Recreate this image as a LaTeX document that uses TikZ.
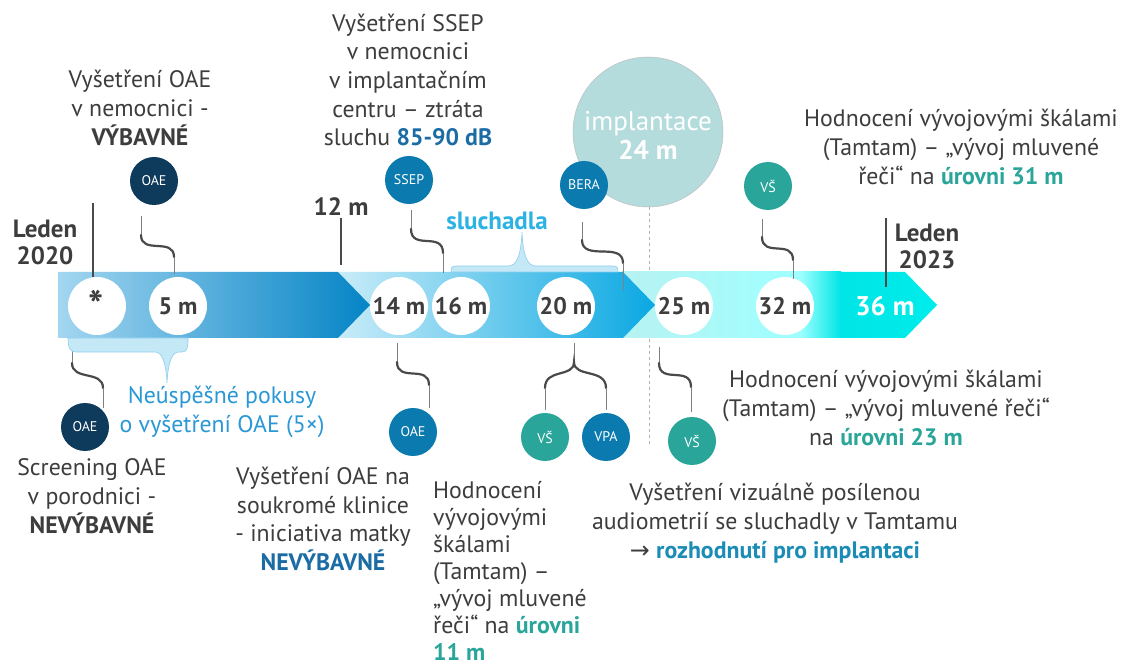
\documentclass[tikz,border=0pt]{standalone}
\usepackage{fontspec}
\setmainfont{PT Sans}
\newfontfamily\symfont{DejaVu Sans}
\definecolor{txt}{HTML}{3D3D3D}
\definecolor{navy}{HTML}{0E3A5C}
\definecolor{mblue}{HTML}{0B7AAE}
\definecolor{tealb}{HTML}{2AA59A}
\definecolor{dblue}{HTML}{1B6CA5}
\definecolor{lblue}{HTML}{2A98D5}
\definecolor{cyanb}{HTML}{2DB2E4}
\definecolor{ablue}{HTML}{1A8CB5}
\definecolor{implc}{HTML}{B4DCDC}
\definecolor{connc}{HTML}{4A4A4A}
\definecolor{connl}{HTML}{808080}
\definecolor{bracef}{HTML}{C4E8F6}
\definecolor{braced}{HTML}{8CCFEE}
\begin{document}
\begin{tikzpicture}[x=1pt,y=-1pt,
  badge/.style={circle,minimum size=48pt,inner sep=0pt,text=white,font=\fontsize{14}{16}\selectfont},
  mcirc/.style={circle,fill=white,minimum size=58pt,inner sep=0pt,text=txt,font=\bfseries\fontsize{24}{26}\selectfont},
  body/.style={text=txt,align=center,inner sep=0pt,font=\fontsize{23.8}{28.7}\selectfont},
  bbody/.style={body,font=\bfseries\fontsize{25}{27}\selectfont},
  thin/.style={draw=connl,line width=1pt},
  thick/.style={draw=connc,line width=2.2pt,line cap=round},
  bracestyle/.style={fill=bracef,draw=braced,line width=0.6pt}]
\useasboundingbox[fill=white] (0,0) rectangle (1125,668);

% dashed implant line
\coordinate (dtop) at (649,207);
\coordinate (dbot) at (649,445);
\draw[draw=black!30,dashed,line width=1pt] (dtop) -- (dbot);

% band segment 3
\shade[left color=cyan!20!white!90!teal, right color=cyan!38!white] (622,272) rectangle (801,338);
\shade[left color=cyan!38!white, right color=cyan!80!teal] (800,272) rectangle (841,338);
\shade[left color=cyan!80!teal, right color=cyan!85!teal] (840,272) -- (905,272) -- (937,305) -- (905,338) -- (840,338) -- cycle;
% band segment 2
\shade[left color={rgb,255:red,201;green,236;blue,248}, middle color={rgb,255:red,138;green,214;blue,240}, right color={rgb,255:red,10;green,168;blue,226}] (338,272) -- (623,272) -- (655,305) -- (623,338) -- (338,338) -- cycle;
% band segment 1
\shade[left color={rgb,255:red,163;green,214;blue,240}, middle color={rgb,255:red,111;green,191;blue,232}, right color={rgb,255:red,5;green,132;blue,198}] (58,272) -- (338,272) -- (370,305) -- (338,338) -- (58,338) -- cycle;

% implant circle
\node[circle,fill=implc,draw=black!25,line width=0.5pt,minimum size=150pt,inner sep=0pt] (impl) at (648,132) {};
\node[text=white,align=center,font=\fontsize{27}{29}\selectfont] (impltxt) at (648,135) {implantace\\\textbf{24 m}};

% month circles
\node[mcirc] (m0) at (97,306) {};
\node[text=txt,font=\bfseries\fontsize{40}{40}\selectfont] (ast) at (96,305) {*};
\node[mcirc] (m5) at (178,306) {5 m};
\node[mcirc] (m14) at (399,306) {14 m};
\node[mcirc] (m16) at (461,306) {16 m};
\node[mcirc] (m20) at (566,306) {20 m};
\node[mcirc] (m25) at (684,306) {25 m};
\node[mcirc] (m32) at (785,306) {32 m};
\node[text=white,font=\bfseries\fontsize{27}{28}\selectfont] (m36) at (885,306) {36 m};

% braces
\path[bracestyle] (451,272) .. controls (451,267) and (452,266) .. (457,266) -- (508,266) .. controls (517,266) and (521,255) .. (522,232) .. controls (523,255) and (527,266) .. (536,266) -- (612,266) .. controls (617,266) and (618,267) .. (618,272) -- cycle;
\coordinate (c8a) at (72,345);
\draw[thin] (c8a) -- (72,363);
\draw[thick] (72,363) .. controls (72,381) and (103,370) .. (103,388);
\coordinate (c8b) at (103,408);
\draw[thin] (103,388) -- (c8b);
\path[bracestyle] (68,338) .. controls (68,348) and (70,352) .. (76,352) -- (155,352) .. controls (162,352) and (166,362) .. (167,383) .. controls (168,362) and (172,352) .. (179,352) -- (182,352) .. controls (187,352) and (188,348) .. (188,338) -- cycle;

% badges
\node[badge,fill=navy] (oae1) at (154,181) {OAE};
\node[badge,fill=mblue] (ssep) at (409,180) {SSEP};
\node[badge,fill=mblue] (bera) at (584,185) {BERA};
\node[badge,fill=tealb] (vs1) at (768,186) {VŠ};
\node[badge,fill=navy] (oae2) at (85,427) {OAE};
\node[badge,fill=mblue] (oae3) at (413,432) {OAE};
\node[badge,fill=tealb] (vs2) at (545,437) {VŠ};
\node[badge,fill=mblue] (vpa) at (606,437) {VPA};
\node[badge,fill=tealb] (vs3) at (692,441) {VŠ};

% connectors above
\coordinate (c1a) at (141,216);
\coordinate (c1b) at (174,274);
\draw[thin] (c1a) -- (141,235);
\draw[thick] (141,235) .. controls (141,255) and (174,237) .. (174,257);
\draw[thin] (174,257) -- (c1b);

\coordinate (c2a) at (411,210);
\coordinate (c2b) at (443,273);
\draw[thin] (c2a) -- (411,229);
\draw[thick] (411,229) .. controls (411,251) and (443,231) .. (443,253);
\draw[thin] (443,253) -- (c2b);

\coordinate (c3a) at (582,222);
\coordinate (c3b) at (623,290);
\draw[thin] (c3a) -- (582,240);
\draw[thick] (582,240) .. controls (582,262) and (623,241) .. (623,263);
\draw[thin] (623,263) -- (c3b);

\coordinate (c4a) at (762,219);
\coordinate (c4b) at (793,279);
\draw[thin] (c4a) -- (762,237);
\draw[thick] (762,237) .. controls (762,258) and (793,239) .. (793,260);
\draw[thin] (793,260) -- (c4b);

\coordinate (c5a) at (93,203);
\draw[draw=connc,line width=1.4pt] (c5a) -- (m0.north -| c5a);
\coordinate (c6a) at (341,218);
\coordinate (c6b) at (341,265);
\draw[draw=connc,line width=1.4pt] (c6a) -- (c6b);
\coordinate (c7a) at (886,218);
\coordinate (c7b) at (886,287);
\draw[draw=connc,line width=1.4pt] (c7a) -- (c7b);

% connectors below
\coordinate (c9a) at (397,343);
\coordinate (c9b) at (429,408);
\draw[thin] (c9a) -- (397,362);
\draw[thick] (397,362) .. controls (397,383) and (429,364) .. (429,385);
\draw[thin] (429,385) -- (c9b);

\coordinate (c10a) at (574,343);
\coordinate (c10f) at (574,362);
\coordinate (c10l) at (545,410);
\coordinate (c10r) at (606,410);
\draw[thin] (c10a) -- (c10f);
\draw[thick] (545,388) .. controls (545,368) and (574,378) .. (c10f) .. controls (574,378) and (606,368) .. (606,388);
\draw[thin] (545,388) -- (c10l);
\draw[thin] (606,388) -- (c10r);

\coordinate (c11a) at (659,347);
\coordinate (c11b) at (691,412);
\draw[thin] (c11a) -- (659,363);
\draw[thick] (659,363) .. controls (659,385) and (691,365) .. (691,387);
\draw[thin] (691,387) -- (c11b);

% texts
\node[body] (t1) at (140,108) {Vyšetření OAE\\v nemocnici -\\\textbf{VÝBAVNÉ}};
\node[body] (t2) at (408,80) {Vyšetření SSEP\\v nemocnici\\v implantačním\\centru – ztráta\\sluchu \textcolor{dblue}{\textbf{85-90 dB}}};
\node[bbody] (t3) at (341,207) {12 m};
\node[bbody] (t4) at (45,242) {Leden\\2020};
\node[bbody,text=cyanb] (t5) at (497,221) {sluchadla};
\node[body] (t7) at (961,147) {Hodnocení vývojovými škálami\\(Tamtam) – „vývoj mluvené\\řeči“ na \textcolor{tealb}{\textbf{úrovni 31 m}}};
\node[bbody] (t8) at (927,246) {Leden\\2023};
\node[body,text=lblue] (t9) at (222,412) {Neúspěšné pokusy\\o vyšetření OAE (5×)};
\node[body] (t10) at (92,496) {Screening OAE\\v porodnici -\\\textbf{NEVÝBAVNÉ}};
\node[body] (t11) at (323,519) {Vyšetření OAE na\\soukromé klinice\\- iniciativa matky\\\textcolor{dblue}{\textbf{NEVÝBAVNÉ}}};
\node[body,align=left,anchor=west,font=\fontsize{23.8}{27}\selectfont] (t12) at (433,571) {Hodnocení\\vývojovými\\škálami\\(Tamtam) –\\„vývoj mluvené\\řeči“ na \textcolor{tealb}{\textbf{úrovni}}\\\textcolor{tealb}{\textbf{11 m}}};
\node[body] (t13) at (886,408) {Hodnocení vývojovými škálami\\(Tamtam) – „vývoj mluvené řeči“\\na \textcolor{tealb}{\textbf{úrovni 23 m}}};
\node[body] (t14) at (775,523) {Vyšetření vizuálně posílenou\\audiometrií se sluchadly v Tamtamu\\{\symfont →} \textcolor{ablue}{\textbf{rozhodnutí pro implantaci}}};
\end{tikzpicture}
\end{document}
